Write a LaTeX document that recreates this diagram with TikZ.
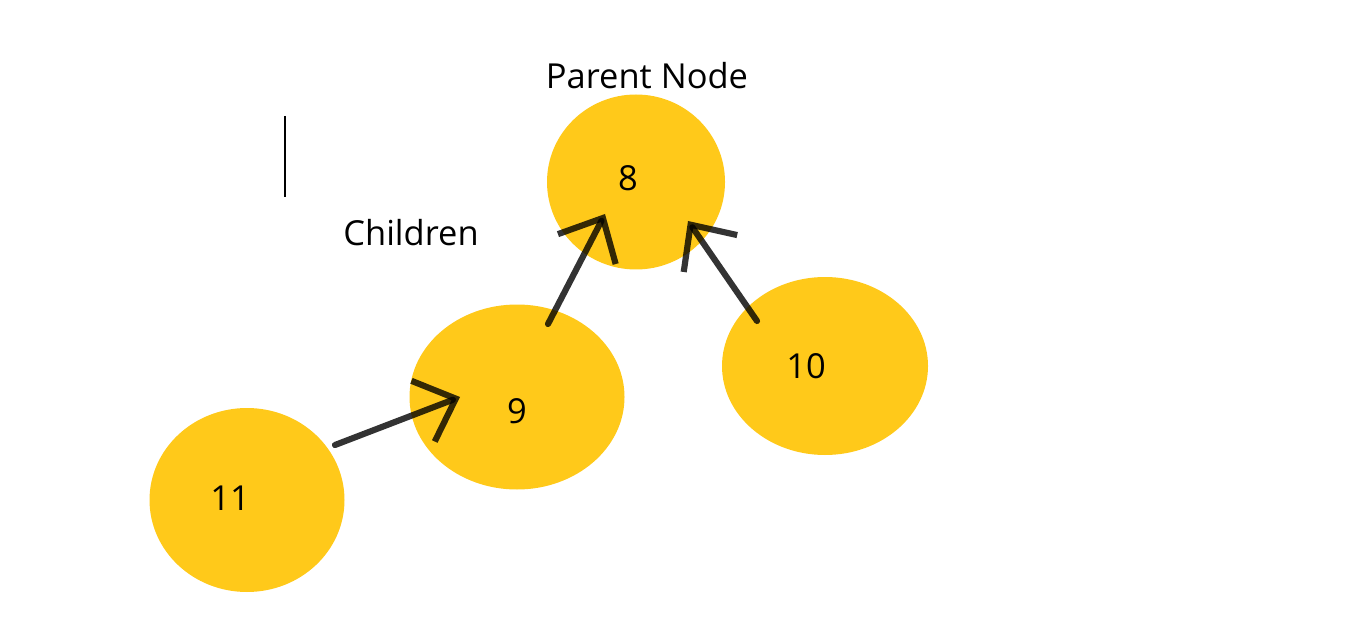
\documentclass[tikz,border=0pt]{standalone}
\usepackage{fontspec}
\setmainfont{Open Sans}
\usetikzlibrary{shapes.geometric,arrows.meta,calc}
\definecolor{blobyellow}{RGB}{255,201,26}
\tikzset{
  blob/.style={ellipse, fill=blobyellow, inner sep=0pt},
  num/.style={font=\fontsize{19.6}{23}\selectfont, text=black},
  sketch/.style={draw=black, opacity=0.8, line width=3.5pt, line cap=round,
    -{Straight Barb[length=0.7cm,width=1.3cm,line width=3.5pt]}}
}
\begin{document}
\begin{tikzpicture}
    \useasboundingbox (0,0) rectangle (27,12.58);

    % blobs
    \node[blob, minimum width=3.56cm, minimum height=3.5cm,
      label={[num, xshift=-0.16cm, yshift=0.08cm]center:8}] (n8) at (12.72,8.94) {};
    \node[blob, minimum width=4.3cm, minimum height=3.7cm,
      label={[num, yshift=-0.28cm]center:9}] (n9) at (10.34,4.64) {};
    \node[blob, minimum width=4.12cm, minimum height=3.56cm,
      label={[num, xshift=-0.38cm]center:10}] (n10) at (16.5,5.26) {};
    \node[blob, minimum width=3.9cm, minimum height=3.68cm,
      label={[num, xshift=-0.34cm, yshift=0.04cm]center:11}] (n11) at (4.94,2.58) {};

    % texts
    \node[num] (parent) at (12.94,11.06) {Parent Node};
    \node[num] (children) at (8.22,7.92) {Children};
    \draw[line width=0.6pt] (5.7,10.26) -- (5.7,8.64); % cursor

    % arrows
    \draw[sketch] ($(n11)+(1.76,1.10)$) -- ($(n9)+(-1.14,0)$);
    \draw[sketch] ($(n9)+(0.62,1.46)$) -- ($(n8)+(-0.62,-0.64)$);
    \draw[sketch] ($(n10)+(-1.36,0.9)$) -- ($(n8)+(1.04,-0.78)$);
\end{tikzpicture}
\end{document}
